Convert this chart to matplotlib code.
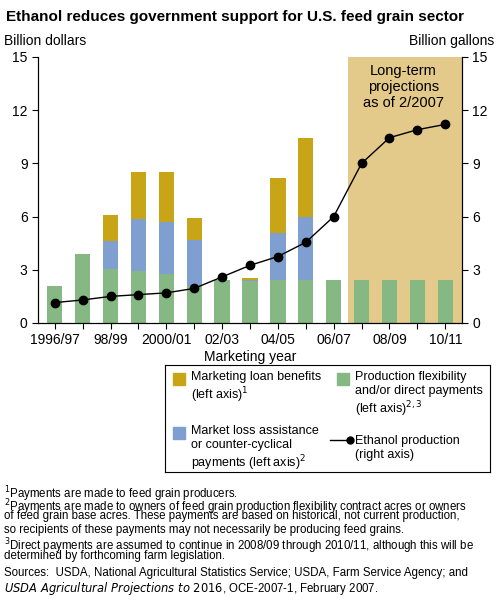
import matplotlib
matplotlib.use("Agg")
import matplotlib.pyplot as plt
from matplotlib.patches import Rectangle
from matplotlib.lines import Line2D

years = ["1996/97","97/98","98/99","99/00","2000/01","01/02","02/03","03/04","04/05","05/06","06/07","07/08","08/09","09/10","10/11"]
green = [2.1,3.9,3.05,2.95,2.75,2.1,2.4,2.35,2.4,2.4,2.4,2.4,2.4,2.4,2.4]
blue = [0,0,1.55,2.9,2.95,2.6,0,0.1,2.65,3.6,0,0,0,0,0]
yellow = [0,0,1.5,2.65,2.8,1.2,0,0.1,3.15,4.45,0,0,0,0,0]
ethanol = [1.15,1.3,1.5,1.6,1.7,1.95,2.6,3.25,3.75,4.55,6.0,9.0,10.45,10.9,11.2]
ticks_show = [0,2,4,6,8,10,12,14]

G="#86b883"; B="#7f9fd1"; Y="#c8a417"; SH="#e3c98a"
W,H=498,604
fig=plt.figure(figsize=(W/100,H/100),dpi=100)
plt.rcParams['font.family']=['Liberation Sans','DejaVu Sans']
ax=fig.add_axes([38/W,1-323/H,424/W,266/H])
x=list(range(len(years)))
ax.axvspan(10.5,14.6,color=SH,zorder=0,lw=0)
ax.bar(x,green,0.55,color=G,zorder=2)
ax.bar(x,blue,0.55,bottom=green,color=B,zorder=2)
b3=[g+b for g,b in zip(green,blue)]
ax.bar(x,yellow,0.55,bottom=b3,color=Y,zorder=2)
ax2=ax.twinx()
ax2.plot(x,ethanol,'k-',marker='o',ms=6,lw=1)
for a in (ax,ax2):
    a.set_ylim(0,15); a.set_yticks(range(0,16,3))
    a.tick_params(labelsize=10,length=4)
    a.spines['top'].set_visible(False)
ax.set_xlim(-0.6,14.6)
ax.set_xticks(x); ax.set_xticklabels([years[i] if i in ticks_show else "" for i in x],fontsize=10)
ax.set_xlabel("Marketing year",fontsize=10,labelpad=2)
ax.text(12.5,14.6,"Long-term\nprojections\nas of 2/2007",ha='center',va='top',fontsize=10.5)
fig.text(6/W,1-10/H,"Ethanol reduces government support for U.S. feed grain sector",fontsize=11,fontweight='bold',va='top')
fig.text(4/W,1-34/H,"Billion dollars",fontsize=10,va='top')
fig.text(494/W,1-34/H,"Billion gallons",fontsize=10,va='top',ha='right')

lx=fig.add_axes([165/W,1-472/H,325/W,(472-365)/H]); lx.set_xlim(0,325); lx.set_ylim(107,0)
lx.set_xticks([]); lx.set_yticks([])
for s in lx.spines.values(): s.set_linewidth(0.8)
def sq(x0,y0,c): lx.add_patch(Rectangle((x0,y0),12,12,color=c))
fs=9
sq(8,8,Y); lx.text(26,6,"Marketing loan benefits\n(left axis)$^1$",va='top',fontsize=fs)
sq(8,62,B); lx.text(26,60,"Market loss assistance\nor counter-cyclical\npayments (left axis)$^2$",va='top',fontsize=fs)
sq(172,8,G); lx.text(190,6,"Production flexibility\nand/or direct payments\n(left axis)$^{2,3}$",va='top',fontsize=fs)
lx.add_line(Line2D([165,185],[75,75],color='k',lw=1,marker='o',ms=5,markevery=[1]))
lx.text(190,70,"Ethanol production\n(right axis)",va='top',fontsize=fs)

foot=["$^1$Payments are made to feed grain producers.",
"$^2$Payments are made to owners of feed grain production flexibility contract acres or owners",
"of feed grain base acres. These payments are based on historical, not current production,",
"so recipients of these payments may not necessarily be producing feed grains.",
"$^3$Direct payments are assumed to continue in 2008/09 through 2010/11, although this will be",
"determined by forthcoming farm legislation.",
None,
"Sources:  USDA, National Agricultural Statistics Service; USDA, Farm Service Agency; and",
"$\\it{USDA\\ Agricultural\\ Projections\\ to\\ 2016}$, OCE-2007-1, February 2007."]
y0=484
for i,t in enumerate(foot):
    yy=y0+i*13.2 if i<6 else y0+6*13.2+4+(i-7)*13.2
    if t: fig.text(4/W,1-yy/H,t,fontsize=8.3,va='top')
fig.savefig("out.png",dpi=100)
